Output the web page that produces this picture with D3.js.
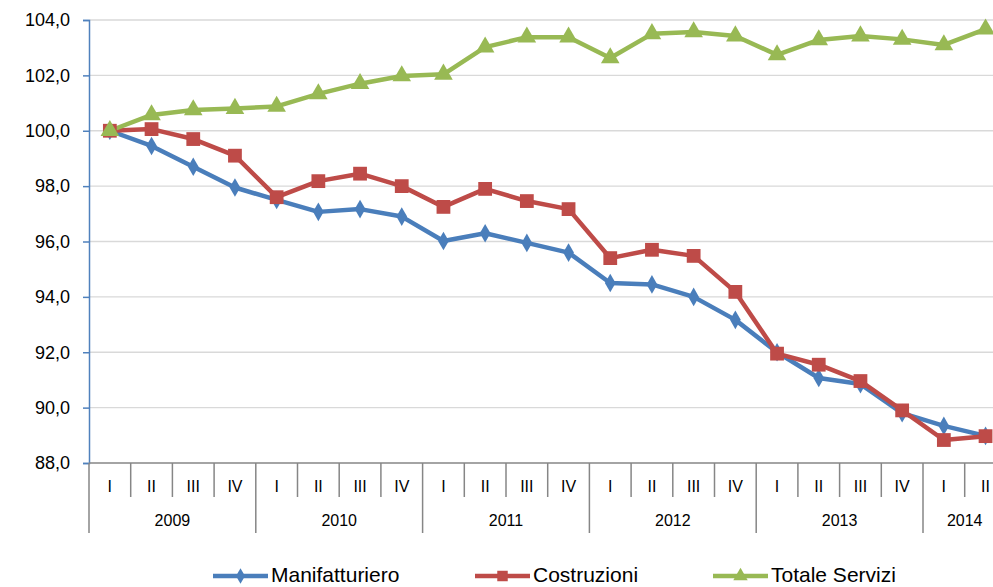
<!DOCTYPE html>
<html><head><meta charset="utf-8">
<script src="https://cdn.jsdelivr.net/npm/d3@7"></script>
<style>body{margin:0;background:#fff}svg{display:block}text{font-family:"Liberation Sans",Arial,sans-serif;fill:#000}</style>
</head><body><svg id="c" width="993" height="587"></svg>
<script>
const years = ["2009","2010","2011","2012","2013","2014"];
const quarterLabels = ["I","II","III","IV"];
const quartersPerYear = [4,4,4,4,4,2];
const yTicks = [88,90,92,94,96,98,100,102,104];
const seriesNames = ["Manifatturiero","Costruzioni","Totale Servizi"];
const manifatturiero = [100.0,99.45,98.7,97.95,97.5,97.07,97.17,96.9,96.02,96.3,95.95,95.6,94.5,94.45,94.0,93.17,92.0,91.07,90.85,89.8,89.34,88.98];
const costruzioni = [100.0,100.06,99.7,99.1,97.6,98.18,98.45,98.0,97.25,97.9,97.46,97.17,95.4,95.7,95.48,94.18,91.95,91.55,90.96,89.9,88.83,88.97];
const totaleServizi = [100.0,100.57,100.75,100.8,100.88,101.33,101.7,101.98,102.04,103.02,103.38,103.38,102.63,103.5,103.57,103.42,102.74,103.28,103.42,103.3,103.1,103.67];

(function(){
const cats = [];
years.forEach((y,i)=>{for(let q=0;q<quartersPerYear[i];q++) cats.push({year:y,q:quarterLabels[q],first:q===0});});

const svg = d3.select("#c");
const mLeft = 89, mTop = 20, mBottom = 463, band = 41.7;
const x = d3.scaleBand().domain(d3.range(cats.length)).range([mLeft, mLeft + band*cats.length]).padding(0);
const y = d3.scaleLinear().domain([88,104]).range([mBottom, mTop]);

svg.append("g").selectAll("line").data(yTicks.filter(t=>t>88)).join("line")
  .attr("x1", mLeft).attr("x2", 993).attr("y1", d=>y(d)).attr("y2", d=>y(d))
  .attr("stroke","#d9d9d9").attr("stroke-width",1.3);

const yAxis = d3.axisLeft(y).tickValues(yTicks).tickSize(6).tickPadding(13)
  .tickFormat(d=>d3.format(".1f")(d).replace(".",","));
const ga = svg.append("g").attr("transform",`translate(${mLeft},0)`).call(yAxis);
ga.select(".domain").attr("stroke","#4f81bd").attr("stroke-width",1.5);
ga.selectAll(".tick line").attr("stroke","#4f81bd").attr("stroke-width",1.5);
ga.selectAll("text").style("font-size","18px").attr("font-family","Liberation Sans, Arial, sans-serif").attr("fill","#000");

const cx = svg.append("g");
cx.append("line").attr("x1",mLeft).attr("x2",993).attr("y1",mBottom).attr("y2",mBottom).attr("stroke","#868686").attr("stroke-width",1.5);
cats.forEach((c,i)=>{
  const x0 = x(i);
  cx.append("line").attr("x1",x0).attr("x2",x0).attr("y1",mBottom).attr("y2", c.first?533:497)
    .attr("stroke","#868686").attr("stroke-width",1.5);
  cx.append("text").attr("x",x0+band/2).attr("y",492).attr("text-anchor","middle").style("font-size","16px").text(c.q);
});
let idx=0;
years.forEach((yr,i)=>{
  const x0 = x(idx), x1 = x0 + band*quartersPerYear[i];
  cx.append("text").attr("x",(x0+x1)/2).attr("y",526).attr("text-anchor","middle").style("font-size","16px").text(yr);
  idx += quartersPerYear[i];
});

const colors = ["#4a7ebb","#be4b48","#98b954"];
const data = [manifatturiero,costruzioni,totaleServizi];
const line = d3.line().x((d,i)=>x(i)+band/2).y(d=>y(d));
const symFill = [d3.symbolDiamond, d3.symbolSquare, d3.symbolTriangle];
const symSize = [100,190,150];
data.forEach((s,k)=>{
  svg.append("path").datum(s).attr("d",line).attr("fill","none").attr("stroke",colors[k]).attr("stroke-width",4.5).attr("stroke-linejoin","round");
});
data.forEach((s,k)=>{
  svg.append("g").selectAll("path").data(s).join("path")
    .attr("transform",(d,i)=>`translate(${x(i)+band/2},${y(d)})`)
    .attr("d", d3.symbol().type(symFill[k]).size(symSize[k]))
    .attr("fill",colors[k]);
});

const legX = [213, 475, 713];
const legSize = [70,110,90];
const lg = svg.append("g");
seriesNames.forEach((n,k)=>{
  const lx = legX[k], ly = 576;
  lg.append("line").attr("x1",lx).attr("x2",lx+55).attr("y1",ly).attr("y2",ly).attr("stroke",colors[k]).attr("stroke-width",4.5);
  lg.append("path").attr("transform",`translate(${lx+27.5},${ly})`).attr("d",d3.symbol().type(symFill[k]).size(legSize[k])).attr("fill",colors[k]);
  lg.append("text").attr("x",lx+58).attr("y",582).style("font-size","21px").text(n);
});
})();
</script></body></html>
